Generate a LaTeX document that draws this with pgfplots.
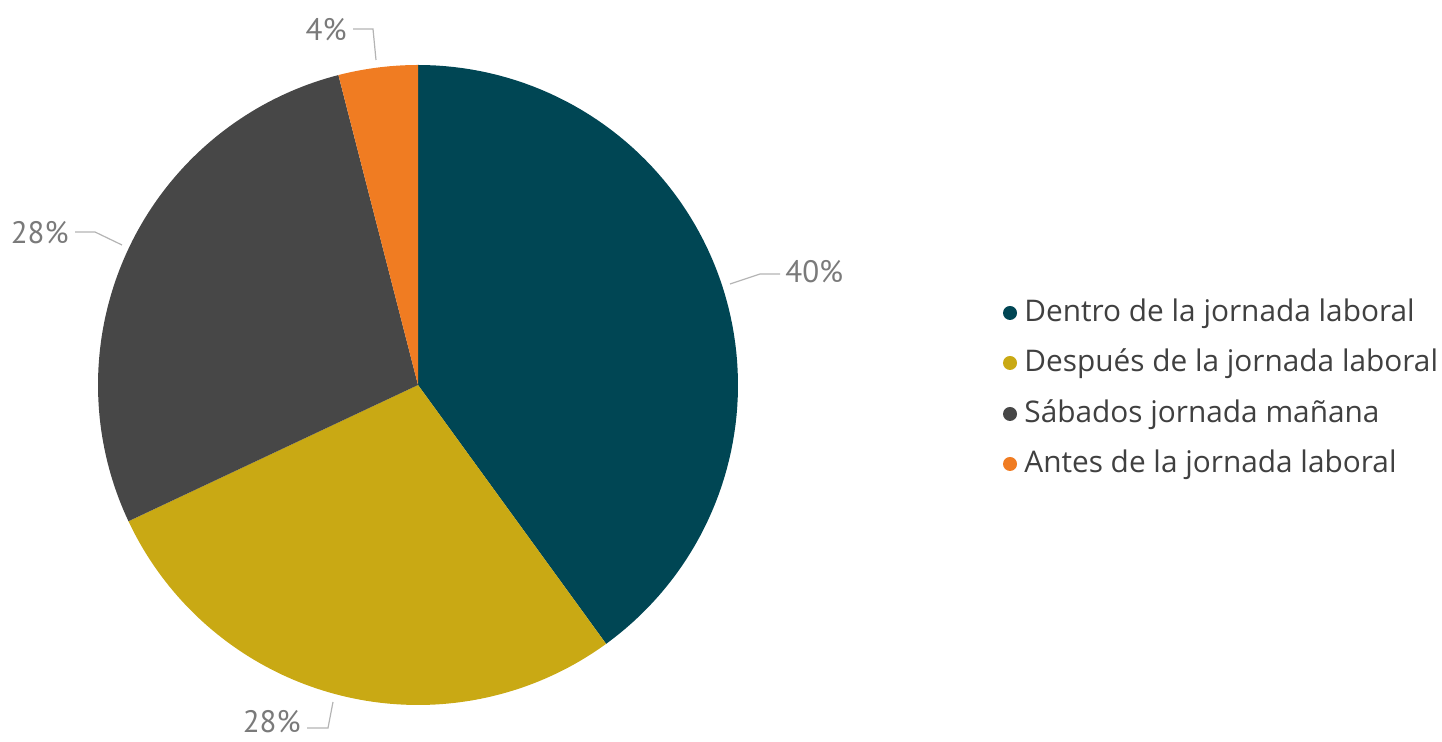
\documentclass[border=0pt]{standalone}
\usepackage{pgfplots}
\pgfplotsset{compat=1.18}
\usepackage{pgfplotstable}
\usepackage{fontspec}
\setmainfont{Open Sans}
\newfontfamily\labfont{PT Sans}
\definecolor{cA}{HTML}{004654}
\definecolor{cB}{HTML}{C9A914}
\definecolor{cC}{HTML}{474747}
\definecolor{cD}{HTML}{F07C22}
\definecolor{lab}{HTML}{7A7A7A}
\definecolor{leg}{HTML}{404040}
\definecolor{lead}{HTML}{B4B4B4}

\pgfplotstableread{
label value
Dentro 40
Despues 28
Sabados 28
Antes 4
}\piedata
\pgfplotstablegetelem{0}{value}\of\piedata \let\va\pgfplotsretval
\pgfplotstablegetelem{1}{value}\of\piedata \let\vb\pgfplotsretval
\pgfplotstablegetelem{2}{value}\of\piedata \let\vc\pgfplotsretval
\pgfplotstablegetelem{3}{value}\of\piedata \let\vd\pgfplotsretval
\pgfmathsetmacro\aA{90-3.6*\va}
\pgfmathsetmacro\aB{\aA-3.6*\vb}
\pgfmathsetmacro\aC{\aB-3.6*\vc}
\pgfmathsetmacro\aD{\aC-3.6*\vd}

\begin{document}
\begin{tikzpicture}
\begin{axis}[
  hide axis, scale only axis, width=721pt, height=371pt,
  xmin=0, xmax=1442, ymin=0, ymax=742, clip=false,
]
\path (axis cs:0,0) rectangle (axis cs:1442,742);
\addplot[fill=cA, draw=none, domain=90:\aA, samples=90, variable=\t] ({418+320*cos(t)},{357+320*sin(t)}) -- (axis cs:418,357) -- cycle;
\addplot[fill=cB, draw=none, domain=\aA:\aB, samples=90, variable=\t] ({418+320*cos(t)},{357+320*sin(t)}) -- (axis cs:418,357) -- cycle;
\addplot[fill=cC, draw=none, domain=\aB:\aC, samples=90, variable=\t] ({418+320*cos(t)},{357+320*sin(t)}) -- (axis cs:418,357) -- cycle;
\addplot[fill=cD, draw=none, domain=\aC:\aD, samples=30, variable=\t] ({418+320*cos(t)},{357+320*sin(t)}) -- (axis cs:418,357) -- cycle;

% leader lines and labels
\draw[lead, line width=0.6pt] (axis cs:730,458) -- (axis cs:760,468) -- (axis cs:780,468);
\node[anchor=west, text=lab, font=\labfont\fontsize{15.5}{18}\selectfont, inner sep=0pt] at (axis cs:785,470) {\va\%};
\draw[lead, line width=0.6pt] (axis cs:122,497) -- (axis cs:95,510) -- (axis cs:75,510);
\node[anchor=east, text=lab, font=\labfont\fontsize{15.5}{18}\selectfont, inner sep=0pt] at (axis cs:69,509) {\vc\%};
\draw[lead, line width=0.6pt] (axis cs:333,40) -- (axis cs:328,14) -- (axis cs:307,14);
\node[anchor=east, text=lab, font=\labfont\fontsize{15.5}{18}\selectfont, inner sep=0pt] at (axis cs:301,20) {\vb\%};
\draw[lead, line width=0.6pt] (axis cs:376,682) -- (axis cs:373,713) -- (axis cs:353,713);
\node[anchor=east, text=lab, font=\labfont\fontsize{15.5}{18}\selectfont, inner sep=0pt] at (axis cs:347,712) {\vd\%};

% legend
\fill[cA] (axis cs:1010,429) circle (3.5pt);
\fill[cB] (axis cs:1010,379) circle (3.5pt);
\fill[cC] (axis cs:1010,328) circle (3.5pt);
\fill[cD] (axis cs:1010,278) circle (3.5pt);
\node[anchor=west, text=leg, font=\fontsize{14.9}{17}\selectfont, inner sep=0pt] at (axis cs:1024,428) {Dentro de la jornada laboral};
\node[anchor=west, text=leg, font=\fontsize{14.9}{17}\selectfont, inner sep=0pt] at (axis cs:1024,378) {Después de la jornada laboral};
\node[anchor=west, text=leg, font=\fontsize{14.9}{17}\selectfont, inner sep=0pt] at (axis cs:1024,327) {Sábados jornada mañana};
\node[anchor=west, text=leg, font=\fontsize{14.9}{17}\selectfont, inner sep=0pt] at (axis cs:1024,277) {Antes de la jornada laboral};
\end{axis}
\end{tikzpicture}
\end{document}
